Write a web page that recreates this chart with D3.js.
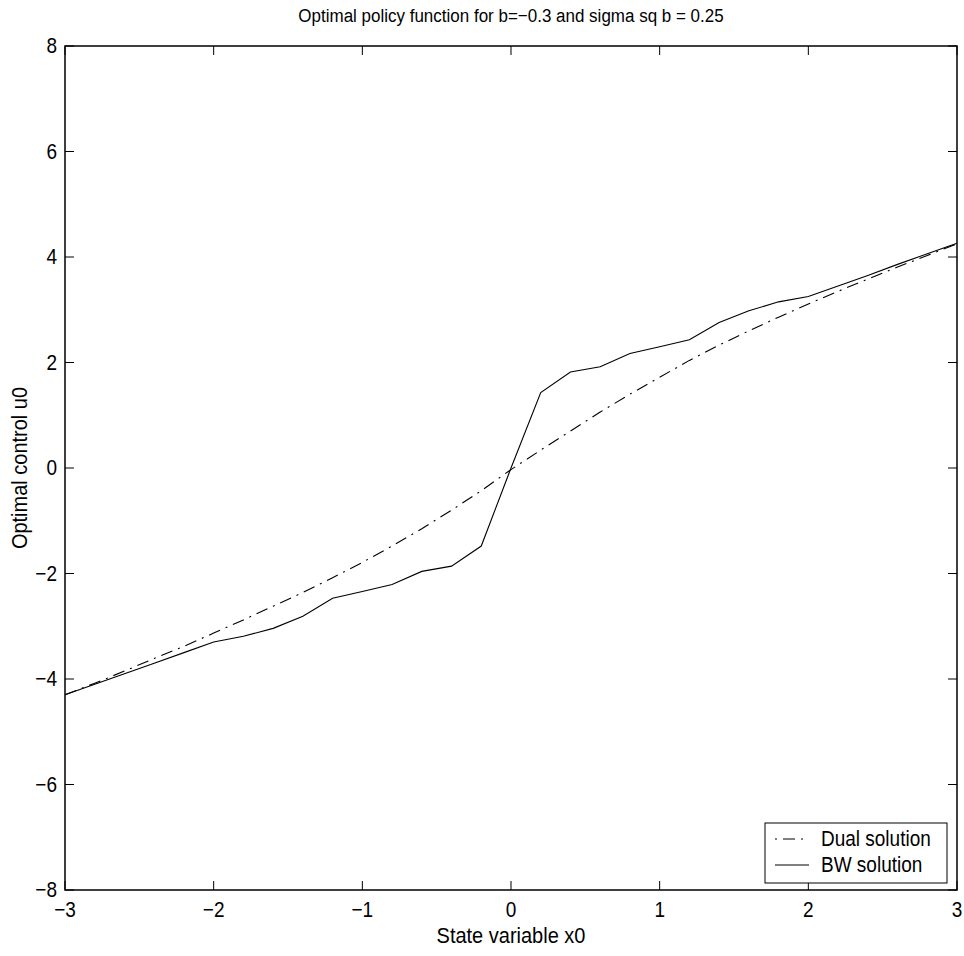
<!DOCTYPE html>
<html>
<head>
<meta charset="utf-8">
<script src="https://cdn.jsdelivr.net/npm/d3@7"></script>
<style>
  body { margin: 0; background: #fff; }
  svg text { font-family: "Liberation Sans", Arial, sans-serif; fill: #000; }
</style>
</head>
<body>
<svg id="chart" width="964" height="956"></svg>
<script>
// state grid x0
var xValues = [-3, -2.8, -2.6, -2.4, -2.2, -2, -1.8, -1.6, -1.4, -1.2, -1, -0.8, -0.6, -0.4, -0.2,
               0, 0.2, 0.4, 0.6, 0.8, 1, 1.2, 1.4, 1.6, 1.8, 2, 2.2, 2.4, 2.6, 2.8, 3];
// dual solution (dash-dot)
var dualValues = [-4.30, -4.08, -3.85, -3.61, -3.38, -3.13, -2.88, -2.62, -2.36, -2.08, -1.79, -1.48, -1.15, -0.80, -0.43,
                  -0.03, 0.34, 0.70, 1.06, 1.40, 1.72, 2.04, 2.33, 2.60, 2.86, 3.11, 3.35, 3.58, 3.81, 4.03, 4.25];
// BW solution (solid)
var bwValues = [-4.30, -4.10, -3.90, -3.70, -3.50, -3.30, -3.19, -3.04, -2.81, -2.47, -2.34, -2.21, -1.96, -1.86, -1.48,
                0, 1.43, 1.82, 1.92, 2.17, 2.30, 2.43, 2.76, 2.98, 3.15, 3.25, 3.45, 3.65, 3.86, 4.06, 4.26];
var xTicks = [-3, -2, -1, 0, 1, 2, 3];
var yTicks = [-8, -6, -4, -2, 0, 2, 4, 6, 8];

var plot = { left: 65, right: 957, top: 46, bottom: 890 };
var svg = d3.select('#chart');

var x = d3.scaleLinear().domain([-3, 3]).range([plot.left, plot.right]);
var y = d3.scaleLinear().domain([-8, 8]).range([plot.bottom, plot.top]);

function fmt(d) { return d < 0 ? '\u2212' + Math.abs(d) : String(d); }

// text in the picture is a bit taller than it is wide, stretch it a little
var SY = 1.12;
function label(parent, tx, ty, str, size, anchor, rot) {
  return parent.append('text')
    .attr('transform', 'translate(' + tx + ',' + ty + ')' + (rot ? ' rotate(' + rot + ')' : '') + ' scale(1,' + SY + ')')
    .attr('text-anchor', anchor || 'start')
    .attr('font-size', size)
    .text(str);
}

// ticks: inward on all four sides (matlab box style)
var tickLen = 9;
var g = svg.append('g').attr('stroke', '#000').attr('stroke-width', 1);
xTicks.forEach(function(t) {
  g.append('line').attr('x1', x(t)).attr('x2', x(t)).attr('y1', plot.bottom).attr('y2', plot.bottom - tickLen);
  g.append('line').attr('x1', x(t)).attr('x2', x(t)).attr('y1', plot.top).attr('y2', plot.top + tickLen);
});
yTicks.forEach(function(t) {
  g.append('line').attr('x1', plot.left).attr('x2', plot.left + tickLen).attr('y1', y(t)).attr('y2', y(t));
  g.append('line').attr('x1', plot.right).attr('x2', plot.right - tickLen).attr('y1', y(t)).attr('y2', y(t));
});

xTicks.forEach(function(t) {
  label(svg, x(t), plot.bottom + 27, fmt(t), 19, 'middle');
});
yTicks.forEach(function(t) {
  label(svg, plot.left - 8, y(t) + 7, fmt(t), 19, 'end');
});

// curves
var line = d3.line()
  .x(function(d) { return x(d[0]); })
  .y(function(d) { return y(d[1]); });

svg.append('path')
  .datum(d3.zip(xValues, dualValues))
  .attr('d', line)
  .attr('fill', 'none')
  .attr('stroke', '#000')
  .attr('stroke-width', 1.1)
  .attr('stroke-dasharray', '12,6,2,6');

svg.append('path')
  .datum(d3.zip(xValues, bwValues))
  .attr('d', line)
  .attr('fill', 'none')
  .attr('stroke', '#000')
  .attr('stroke-width', 1.1);

// frame
svg.append('rect')
  .attr('x', plot.left).attr('y', plot.top)
  .attr('width', plot.right - plot.left).attr('height', plot.bottom - plot.top)
  .attr('fill', 'none').attr('stroke', '#000').attr('stroke-width', 1.5);

// titles
label(svg, (plot.left + plot.right) / 2, 22, 'Optimal policy function for b=\u22120.3 and sigma sq b = 0.25', 17, 'middle');
label(svg, (plot.left + plot.right) / 2, 943, 'State variable x0', 20, 'middle');
label(svg, 27, (plot.top + plot.bottom) / 2, 'Optimal control u0', 20, 'middle', -90);

// legend
var legend = svg.append('g').attr('transform', 'translate(765,823)');
legend.append('rect')
  .attr('width', 182).attr('height', 60)
  .attr('fill', '#fff').attr('stroke', '#000').attr('stroke-width', 1);
var entries = [
  { label: 'Dual solution', dash: '2,6,12,6' },
  { label: 'BW solution', dash: null }
];
entries.forEach(function(e, i) {
  var cy = 16 + i * 26;
  legend.append('line')
    .attr('x1', 10).attr('x2', 44).attr('y1', cy).attr('y2', cy)
    .attr('stroke', '#000').attr('stroke-width', 1)
    .attr('stroke-dasharray', e.dash);
  label(legend, 56, cy + 7, e.label, 19, 'start');
});
</script>
</body>
</html>
